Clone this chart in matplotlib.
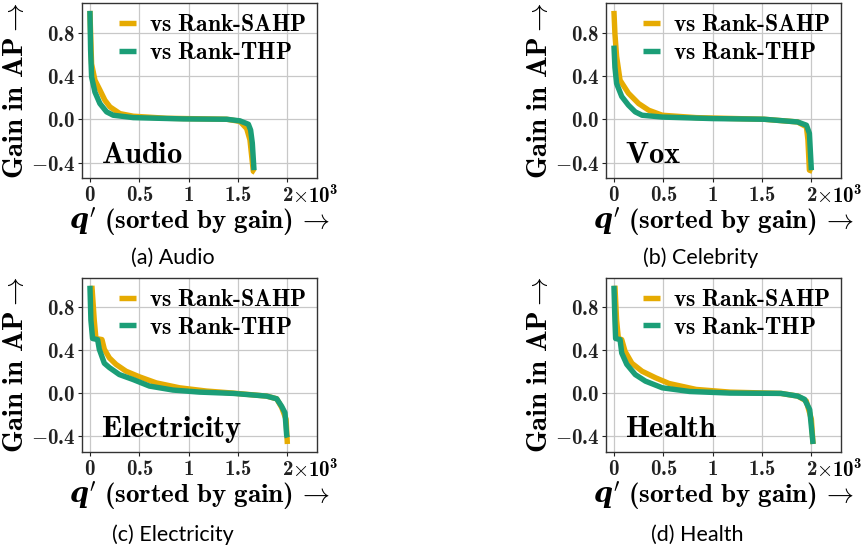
import matplotlib
matplotlib.use("Agg")
import matplotlib.pyplot as plt
from matplotlib.ticker import FuncFormatter
from matplotlib.font_manager import FontProperties

# bold Computer Modern for all math text
plt.rcParams['mathtext.fontset'] = 'custom'
plt.rcParams['mathtext.rm'] = 'cmr10'
plt.rcParams['mathtext.bf'] = 'cmb10'
plt.rcParams['mathtext.it'] = 'cmmi10'
plt.rcParams['mathtext.bfit'] = 'DejaVu Serif:italic:bold'
plt.rcParams['mathtext.fallback'] = 'cm'
plt.rcParams['axes.unicode_minus'] = True

# ------------------------------
# Data
# ------------------------------
panels = ["Audio", "Vox", "Electricity", "Health"]
captions = ["(a) Audio", "(b) Celebrity", "(c) Electricity", "(d) Health"]
series_names = ["SAHP", "THP"]
colors = ["#E6AB02", "#1B9E77"]

# Audio
audio_sahp_x = [0, 17, 51, 101, 152, 203, 304, 439, 777, 1385, 1520, 1588, 1621, 1655, 1672]
audio_sahp_y = [1.0, 0.51, 0.36, 0.27, 0.175, 0.114, 0.052, 0.028, 0.009, 0.0, -0.02, -0.086, -0.19, -0.48, -0.49]
audio_thp_x = [0, 7, 17, 51, 101, 169, 236, 439, 946, 1385, 1520, 1605, 1628, 1645, 1662]
audio_thp_y = [1.0, 0.64, 0.39, 0.25, 0.145, 0.068, 0.037, 0.015, 0.003, 0.0, -0.015, -0.046, -0.1, -0.22, -0.47]

# Vox (Celebrity)
vox_sahp_x = [0, 10, 27, 62, 147, 250, 353, 490, 833, 1520, 1860, 1950, 1965, 1980, 2010]
vox_sahp_y = [1.0, 0.79, 0.58, 0.36, 0.24, 0.145, 0.083, 0.037, 0.015, 0.0, -0.025, -0.07, -0.19, -0.47, -0.48]
vox_thp_x = [0, 10, 27, 79, 147, 216, 285, 490, 1005, 1520, 1860, 1950, 1980, 2000]
vox_thp_y = [0.68, 0.48, 0.33, 0.21, 0.13, 0.068, 0.037, 0.02, 0.006, 0.0, -0.025, -0.055, -0.13, -0.47]

# Electricity
elec_sahp_x = [20, 44, 61, 122, 146, 197, 264, 366, 502, 671, 909, 1180, 1451, 1790, 1892, 1942, 1987, 2000]
elec_sahp_y = [1.0, 0.68, 0.51, 0.5, 0.41, 0.33, 0.27, 0.206, 0.154, 0.098, 0.052, 0.022, 0.003, -0.025, -0.05, -0.13, -0.24, -0.47]
elec_thp_x = [0, 10, 27, 78, 95, 146, 197, 298, 434, 603, 841, 1112, 1451, 1790, 1892, 1942, 1976, 1993, 2000]
elec_thp_y = [1.0, 0.68, 0.51, 0.5, 0.41, 0.28, 0.24, 0.175, 0.13, 0.068, 0.031, 0.012, 0.0, -0.025, -0.05, -0.12, -0.18, -0.39, -0.41]

# Health
health_sahp_x = [10, 27, 45, 79, 113, 182, 285, 422, 559, 833, 1176, 1691, 1862, 1948, 2000, 2017]
health_sahp_y = [1.0, 0.68, 0.51, 0.5, 0.39, 0.28, 0.206, 0.145, 0.092, 0.037, 0.012, 0.0, -0.025, -0.07, -0.24, -0.47]
health_thp_x = [0, 10, 17, 62, 79, 130, 216, 319, 490, 765, 1176, 1691, 1862, 1931, 1983, 2017]
health_thp_y = [1.0, 0.68, 0.51, 0.5, 0.375, 0.27, 0.175, 0.114, 0.052, 0.018, 0.003, 0.0, -0.025, -0.055, -0.15, -0.47]

curves = [
    [(audio_sahp_x, audio_sahp_y), (audio_thp_x, audio_thp_y)],
    [(vox_sahp_x, vox_sahp_y), (vox_thp_x, vox_thp_y)],
    [(elec_sahp_x, elec_sahp_y), (elec_thp_x, elec_thp_y)],
    [(health_sahp_x, health_sahp_y), (health_thp_x, health_thp_y)],
]

x_ticks = [0, 500, 1000, 1500, 2000]
y_ticks = [-0.4, 0.0, 0.4, 0.8]

# ------------------------------
# Figure
# ------------------------------
fig = plt.figure(figsize=(8.67, 5.52), dpi=100)

# axes boxes in figure fraction [left, bottom, width, height]
boxes = [
    [0.0946, 0.677, 0.271, 0.317],
    [0.699, 0.677, 0.271, 0.317],
    [0.0946, 0.181, 0.271, 0.315],
    [0.699, 0.181, 0.271, 0.315],
]
caption_pos = [(0.199, 0.533), (0.808, 0.533), (0.199, 0.031), (0.804, 0.031)]

legend_font = FontProperties(family='cmb10', size=17)


def fmt_x(v, pos):
    s = "%g" % (v / 1000.0)
    return r"$\mathbf{%s}$" % s


def fmt_y(v, pos):
    return r"$\mathbf{%.1f}$" % v


for i, name in enumerate(panels):
    ax = fig.add_axes(boxes[i])
    for j, (xs, ys) in enumerate(curves[i]):
        lab = r"$\mathbf{vs\ Rank}$-$\mathbf{%s}$" % series_names[j]
        ax.plot(xs, ys, color=colors[j], lw=3.9, label=lab,
                solid_capstyle='butt')

    ax.set_xlim(-80, 2300)
    ax.set_ylim(-0.545, 1.07)
    ax.set_xticks(x_ticks)
    ax.set_yticks(y_ticks)
    ax.xaxis.set_major_formatter(FuncFormatter(fmt_x))
    ax.yaxis.set_major_formatter(FuncFormatter(fmt_y))
    ax.tick_params(labelsize=15, length=3, width=0.8, pad=2, colors="#222222")
    ax.grid(True, color="#c8c8c8", lw=0.9)
    ax.set_axisbelow(True)
    for sp in ax.spines.values():
        sp.set_color("#333333")
        sp.set_linewidth(1.0)

    # offset text next to the last tick
    ax.annotate(r"$\mathbf{\times 10^3}$", xy=(2000, 0),
                xycoords=('data', 'axes fraction'),
                xytext=(3, -4.2), textcoords='offset points',
                ha='left', va='top', fontsize=15)

    ax.set_ylabel(r"$\mathbf{Gain\ in\ AP}{\rightarrow}$", fontsize=20.7, labelpad=1.5)
    ax.set_xlabel(r"$\mathbfit{q}'\ \mathbf{(sorted\ by\ gain)}\,{\rightarrow}$",
                  fontsize=19.5, labelpad=0)

    ax.text(0.08, 0.085, r"$\mathbf{%s}$" % name, transform=ax.transAxes,
            fontsize=22, va='baseline', ha='left')

    ax.legend(loc='upper right', frameon=False, prop=legend_font,
              handlelength=0.7, handletextpad=0.55, labelspacing=0.25,
              borderaxespad=0.15, borderpad=0.3)

    fig.text(caption_pos[i][0], caption_pos[i][1], captions[i],
             family="Lato", fontsize=15.5, ha='center', va='center')

fig.savefig("out.png", dpi=100)
